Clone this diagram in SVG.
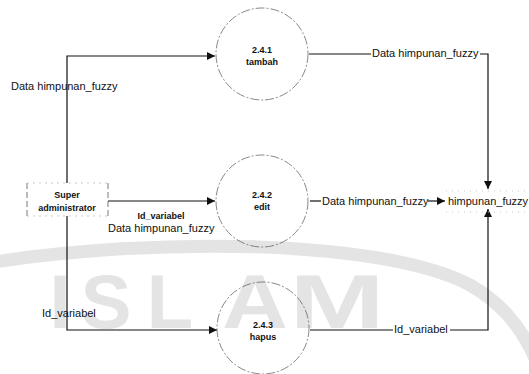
<svg xmlns="http://www.w3.org/2000/svg" width="529" height="374" viewBox="0 0 529 374">
  <style>
    .proc { fill: none; stroke: #555; stroke-width: 0.7; stroke-dasharray: 9 2 2 2; }
    .flow { fill: none; stroke: #111; stroke-width: 1.2; }
    .lbl { font-family: "Liberation Sans", Arial, sans-serif; font-size: 11px; fill: #111; }
    .ptxt { font-family: "Liberation Sans", Arial, sans-serif; font-size: 9px; font-weight: bold; fill: #111; text-anchor: middle; }
    .wm { font-family: "Liberation Sans", Arial, sans-serif; font-size: 76px; font-weight: bold; fill: #e4e4e4; text-anchor: middle; }
  </style>
  <defs>
    <marker id="arrow" viewBox="0 0 10 10" refX="10" refY="5" markerWidth="8" markerHeight="8" markerUnits="userSpaceOnUse" orient="auto">
      <path d="M0,0 L10,5 L0,10 Z" fill="#111"/>
    </marker>
  </defs>
  <rect width="529" height="374" fill="#fff"/>

  <!-- background watermark -->
  <g id="watermark">
    <path d="M-5,262 C150,238 380,238 470,285 C500,302 520,325 535,358" fill="none" stroke="#e4e4e4" stroke-width="13"/>
    <text class="wm" x="60" y="328">I</text>
    <text class="wm" x="106" y="328">S</text>
    <text class="wm" x="170" y="328">L</text>
    <text class="wm" x="255" y="328" transform="translate(255,328) scale(1.2,1) translate(-255,-328)">A</text>
    <text class="wm" x="337" y="328" transform="translate(337,328) scale(1.5,1) translate(-337,-328)">M</text>
  </g>

  <!-- data flows -->
  <g id="connectors">
    <polyline class="flow" points="67,183 67,56 215,56" marker-end="url(#arrow)"/>
    <line class="flow" x1="108" y1="201" x2="215" y2="201" marker-end="url(#arrow)"/>
    <polyline class="flow" points="67,216 67,330 217,330" marker-end="url(#arrow)"/>
    <line class="flow" x1="309" y1="54" x2="371" y2="54"/>
    <polyline class="flow" points="480,54 488,54 488,189" marker-end="url(#arrow)"/>
    <line class="flow" x1="310" y1="201" x2="321" y2="201"/>
    <line class="flow" x1="428" y1="201" x2="445" y2="201" marker-end="url(#arrow)"/>
    <line class="flow" x1="310" y1="330" x2="393" y2="330"/>
    <polyline class="flow" points="450,330 488,330 488,209" marker-end="url(#arrow)"/>

    <text class="lbl" x="11" y="90">Data himpunan_fuzzy</text>
    <text class="lbl" x="372" y="57">Data himpunan_fuzzy</text>
    <text class="lbl" x="322" y="205">Data himpunan_fuzzy</text>
    <text class="ptxt" x="161" y="219">Id_variabel</text>
    <text class="lbl" x="108" y="232">Data himpunan_fuzzy</text>
    <text class="lbl" x="42" y="317">Id_variabel</text>
    <text class="lbl" x="394" y="333">Id_variabel</text>
  </g>

  <!-- external entity -->
  <g id="super-administrator">
    <line x1="27" y1="183" x2="27" y2="216" stroke="#555" stroke-width="0.8" stroke-dasharray="6 3"/>
    <line x1="108" y1="183" x2="108" y2="216" stroke="#555" stroke-width="0.8" stroke-dasharray="6 3"/>
    <line x1="27" y1="183" x2="108" y2="183" stroke="#bbb" stroke-width="0.8" stroke-dasharray="2 4"/>
    <line x1="27" y1="216" x2="108" y2="216" stroke="#bbb" stroke-width="0.8" stroke-dasharray="2 4"/>
    <text class="ptxt" x="67" y="198">Super</text>
    <text class="ptxt" x="67" y="211">administrator</text>
  </g>

  <!-- processes -->
  <g id="p241">
    <circle class="proc" cx="262" cy="54" r="46"/>
    <text class="ptxt" x="262" y="53">2.4.1</text>
    <text class="ptxt" x="262" y="65" font-size="8">tambah</text>
  </g>
  <g id="p242">
    <circle class="proc" cx="262" cy="201" r="46"/>
    <text class="ptxt" x="262" y="198">2.4.2</text>
    <text class="ptxt" x="262" y="210" font-size="8">edit</text>
  </g>
  <g id="p243">
    <circle class="proc" cx="263" cy="328" r="46"/>
    <text class="ptxt" x="263" y="328">2.4.3</text>
    <text class="ptxt" x="263" y="340" font-size="8">hapus</text>
  </g>

  <!-- data store -->
  <g id="store-himpunan-fuzzy">
    <line x1="446" y1="191" x2="529" y2="191" stroke="#bbb" stroke-width="0.8" stroke-dasharray="1 5"/>
    <line x1="446" y1="212" x2="529" y2="212" stroke="#bbb" stroke-width="0.8" stroke-dasharray="1 5"/>
    <text class="lbl" x="448" y="205">himpunan_fuzzy</text>
  </g>
</svg>
